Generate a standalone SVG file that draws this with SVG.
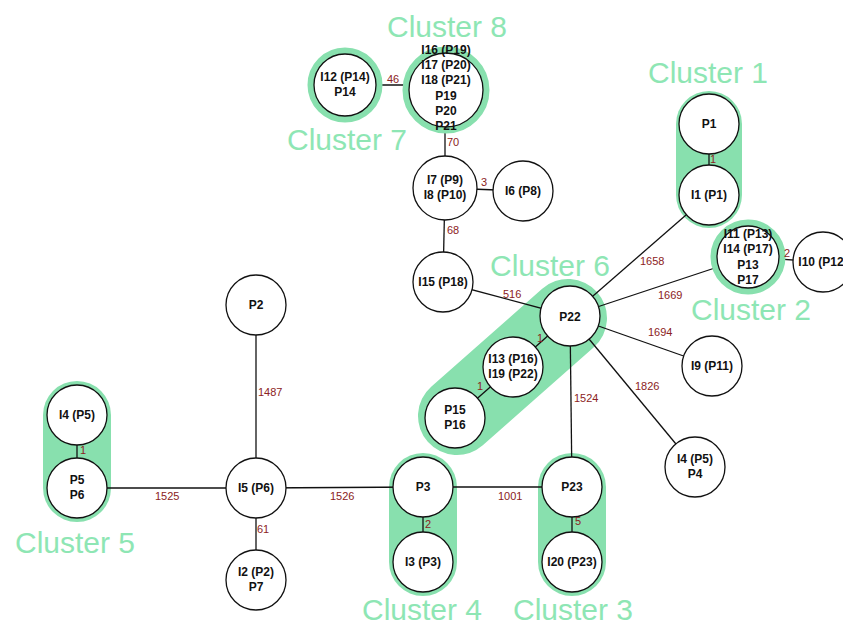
<svg xmlns="http://www.w3.org/2000/svg" width="843" height="627" viewBox="0 0 843 627">
  <style>
    .hull { stroke: #88e0ae; stroke-linecap: round; fill: none; }
    .ring { fill: none; stroke: #88e0ae; stroke-width: 7; }
    .node { fill: #ffffff; stroke: #111111; stroke-width: 1.3; }
    .nt { font-family: "Liberation Sans", Arial, sans-serif; font-weight: bold; font-size: 12px; fill: #111111; text-anchor: middle; }
    .edge { stroke: #111111; stroke-width: 1.3; fill: none; }
    .el { font-family: "Liberation Sans", Arial, sans-serif; font-size: 11px; fill: #8b2222; }
    .cl { font-family: "Liberation Sans", Arial, sans-serif; font-size: 30px; fill: #8ee6b4; }
  </style>
  <rect width="843" height="627" fill="#ffffff"/>

  <!-- cluster hulls -->
  <g id="hulls">
    <line class="hull" x1="709" y1="124" x2="709" y2="195" stroke-width="66"/>
    <line class="hull" x1="77" y1="415" x2="77" y2="488" stroke-width="68"/>
    <line class="hull" x1="423" y1="487" x2="423" y2="562" stroke-width="68"/>
    <line class="hull" x1="572" y1="487" x2="572" y2="562" stroke-width="68"/>
    <line class="hull" x1="568" y1="318" x2="457" y2="416" stroke-width="78"/>
  </g>

  <!-- connectors -->
  <g id="edges">
    <line class="edge" x1="709" y1="124" x2="709" y2="195"/>
    <line class="edge" x1="570" y1="316" x2="709" y2="195"/>
    <line class="edge" x1="570" y1="316" x2="748" y2="257"/>
    <line class="edge" x1="748" y1="257" x2="822" y2="262"/>
    <line class="edge" x1="570" y1="316" x2="712" y2="366"/>
    <line class="edge" x1="570" y1="316" x2="695" y2="467"/>
    <line class="edge" x1="570" y1="316" x2="572" y2="487"/>
    <line class="edge" x1="570" y1="316" x2="443" y2="282"/>
    <line class="edge" x1="570" y1="316" x2="513" y2="367"/>
    <line class="edge" x1="513" y1="367" x2="455" y2="418"/>
    <line class="edge" x1="443" y1="282" x2="445" y2="188"/>
    <line class="edge" x1="445" y1="188" x2="523" y2="191"/>
    <line class="edge" x1="445" y1="188" x2="445" y2="90"/>
    <line class="edge" x1="345" y1="85" x2="446" y2="85"/>
    <line class="edge" x1="423" y1="487" x2="572" y2="487"/>
    <line class="edge" x1="572" y1="487" x2="572" y2="562"/>
    <line class="edge" x1="423" y1="487" x2="423" y2="562"/>
    <line class="edge" x1="256" y1="488" x2="423" y2="487"/>
    <line class="edge" x1="77" y1="488" x2="256" y2="488"/>
    <line class="edge" x1="77" y1="415" x2="77" y2="488"/>
    <line class="edge" x1="256" y1="305" x2="256" y2="488"/>
    <line class="edge" x1="256" y1="488" x2="256" y2="580"/>
  </g>

  <!-- nodes -->
  <g id="n-P1"><circle class="node" cx="709" cy="124" r="30"/><text class="nt" x="709" y="128">P1</text></g>
  <g id="n-I1"><circle class="node" cx="709" cy="195" r="30"/><text class="nt" x="709" y="199">I1 (P1)</text></g>
  <g id="n-I11"><circle class="ring" cx="748" cy="257" r="34"/><circle class="node" cx="748" cy="257" r="31"/>
    <text class="nt" x="748" y="238">I11 (P13)</text><text class="nt" x="748" y="253">I14 (P17)</text><text class="nt" x="748" y="269">P13</text><text class="nt" x="748" y="284">P17</text></g>
  <g id="n-I10"><circle class="node" cx="823" cy="262" r="30"/><text class="nt" x="823" y="266">I10 (P12)</text></g>
  <g id="n-P22"><circle class="node" cx="570" cy="316" r="30"/><text class="nt" x="570" y="321">P22</text></g>
  <g id="n-I13"><circle class="node" cx="513" cy="367" r="30"/><text class="nt" x="513" y="363">I13 (P16)</text><text class="nt" x="513" y="378">I19 (P22)</text></g>
  <g id="n-P15"><circle class="node" cx="455" cy="418" r="30"/><text class="nt" x="455" y="414">P15</text><text class="nt" x="455" y="429">P16</text></g>
  <g id="n-I15"><circle class="node" cx="443" cy="282" r="30"/><text class="nt" x="443" y="286">I15 (P18)</text></g>
  <g id="n-I7"><circle class="node" cx="445" cy="188" r="32"/><text class="nt" x="445" y="184">I7 (P9)</text><text class="nt" x="445" y="199">I8 (P10)</text></g>
  <g id="n-I6"><circle class="node" cx="523" cy="191" r="30"/><text class="nt" x="523" y="195">I6 (P8)</text></g>
  <g id="n-I16"><circle class="ring" cx="446" cy="90" r="40"/><circle class="node" cx="446" cy="90" r="37"/>
    <text class="nt" x="446" y="54">I16 (P19)</text><text class="nt" x="446" y="69">I17 (P20)</text><text class="nt" x="446" y="84">I18 (P21)</text><text class="nt" x="446" y="100">P19</text><text class="nt" x="446" y="115">P20</text><text class="nt" x="446" y="130">P21</text></g>
  <g id="n-I12"><circle class="ring" cx="345" cy="85" r="34"/><circle class="node" cx="345" cy="85" r="31"/><text class="nt" x="345" y="81">I12 (P14)</text><text class="nt" x="345" y="96">P14</text></g>
  <g id="n-P2"><circle class="node" cx="256" cy="305" r="30"/><text class="nt" x="256" y="309">P2</text></g>
  <g id="n-I5"><circle class="node" cx="256" cy="488" r="30"/><text class="nt" x="256" y="492">I5 (P6)</text></g>
  <g id="n-I2"><circle class="node" cx="256" cy="580" r="30"/><text class="nt" x="256" y="576">I2 (P2)</text><text class="nt" x="256" y="591">P7</text></g>
  <g id="n-P5"><circle class="node" cx="77" cy="488" r="30"/><text class="nt" x="77" y="484">P5</text><text class="nt" x="77" y="499">P6</text></g>
  <g id="n-I4"><circle class="node" cx="77" cy="415" r="30"/><text class="nt" x="77" y="419">I4 (P5)</text></g>
  <g id="n-P3"><circle class="node" cx="423" cy="487" r="30"/><text class="nt" x="423" y="491">P3</text></g>
  <g id="n-I3"><circle class="node" cx="423" cy="562" r="30"/><text class="nt" x="423" y="566">I3 (P3)</text></g>
  <g id="n-P23"><circle class="node" cx="572" cy="487" r="30"/><text class="nt" x="572" y="491">P23</text></g>
  <g id="n-I20"><circle class="node" cx="572" cy="562" r="30"/><text class="nt" x="572" y="566">I20 (P23)</text></g>
  <g id="n-I9"><circle class="node" cx="712" cy="366" r="30"/><text class="nt" x="712" y="370">I9 (P11)</text></g>
  <g id="n-I4P4"><circle class="node" cx="695" cy="467" r="30"/><text class="nt" x="695" y="463">I4 (P5)</text><text class="nt" x="695" y="478">P4</text></g>

  <!-- connector weights -->
  <g id="edge-labels">
    <text class="el" x="710" y="163">1</text>
    <text class="el" x="640" y="265">1658</text>
    <text class="el" x="658" y="299">1669</text>
    <text class="el" x="784" y="257">2</text>
    <text class="el" x="648" y="336">1694</text>
    <text class="el" x="635" y="390">1826</text>
    <text class="el" x="574" y="402">1524</text>
    <text class="el" x="503" y="298">516</text>
    <text class="el" x="537" y="342">1</text>
    <text class="el" x="477" y="390">1</text>
    <text class="el" x="447" y="234">68</text>
    <text class="el" x="481" y="186">3</text>
    <text class="el" x="447" y="146">70</text>
    <text class="el" x="387" y="83">46</text>
    <text class="el" x="498" y="500">1001</text>
    <text class="el" x="575" y="525">5</text>
    <text class="el" x="425" y="528">2</text>
    <text class="el" x="330" y="500">1526</text>
    <text class="el" x="155" y="500">1525</text>
    <text class="el" x="80" y="454">1</text>
    <text class="el" x="258" y="396">1487</text>
    <text class="el" x="257" y="533">61</text>
  </g>

  <!-- cluster captions -->
  <g id="captions">
    <text class="cl" x="387" y="37">Cluster 8</text>
    <text class="cl" x="287" y="150">Cluster 7</text>
    <text class="cl" x="648" y="83">Cluster 1</text>
    <text class="cl" x="490" y="276">Cluster 6</text>
    <text class="cl" x="691" y="320">Cluster 2</text>
    <text class="cl" x="15" y="553">Cluster 5</text>
    <text class="cl" x="362" y="620">Cluster 4</text>
    <text class="cl" x="513" y="620">Cluster 3</text>
  </g>
</svg>
